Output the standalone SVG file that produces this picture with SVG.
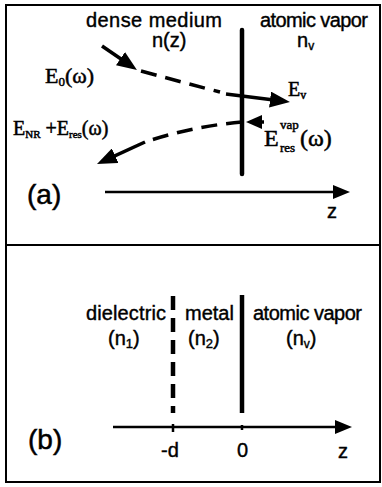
<svg xmlns="http://www.w3.org/2000/svg" width="382" height="487" viewBox="0 0 382 487">
<style>
.s{font-family:"Liberation Sans",Arial,sans-serif;font-size:20px;fill:#000;stroke:#000;stroke-width:0.4}
.r{font-family:"Liberation Serif","Times New Roman",serif;fill:#000;stroke:#000;stroke-width:0.5}
.lbl{font-family:"Liberation Sans",Arial,sans-serif;font-size:28px;fill:#000;stroke:#000;stroke-width:0.5}
.frame{fill:none;stroke:#000;stroke-width:2}
.wall{stroke:#000;stroke-width:4.5;fill:none}
.ray{stroke:#000;stroke-width:3.5;fill:none}
.dash{stroke:#000;stroke-width:3.5;fill:none;stroke-dasharray:16 9}
.axis{stroke:#000;stroke-width:2.5;fill:none}
</style>
<defs>
<marker id="ah" markerUnits="userSpaceOnUse" markerWidth="20" markerHeight="16" refX="10" refY="8" orient="auto"><path d="M0,0 L20,8 L0,16 Z" fill="#000"/></marker>
<marker id="ahs" markerUnits="userSpaceOnUse" markerWidth="16" markerHeight="14" refX="6" refY="7" orient="auto"><path d="M0,0 L16,7 L0,14 Z" fill="#000"/></marker>
<marker id="ax" markerUnits="userSpaceOnUse" markerWidth="17" markerHeight="14" refX="7" refY="7" orient="auto"><path d="M0,0 L17,7 L0,14 Z" fill="#000"/></marker>
</defs>
<rect class="frame" x="6" y="5" width="374" height="477"/>
<line class="frame" x1="6" y1="245" x2="380" y2="245"/>

<g id="panel-a">
<g id="interface-a"><line class="wall" x1="242" y1="30" x2="242" y2="174" stroke-linecap="round"/></g>
<g id="label-dense"><text class="s" x="86" y="27" textLength="136">dense medium</text><text class="s" x="152" y="47">n(z)</text></g>
<g id="label-vapor-a"><text class="s" x="260" y="27" textLength="108">atomic vapor</text><text class="s" x="297" y="47">n<tspan style="font-size:12px" dy="3">v</tspan></text></g>
<g id="label-E0"><text class="r" x="45" y="83" style="font-size:22px">E<tspan style="font-size:13px" dy="3">0</tspan><tspan dy="-3">(ω)</tspan></text></g>
<g id="label-Ev"><text class="r" x="288" y="96" style="font-size:20px">E<tspan style="font-size:12px" dy="3">v</tspan></text></g>
<g id="label-Er"><text class="r" x="13" y="135" style="font-size:20px">E<tspan style="font-size:11px" dy="3">NR</tspan><tspan dy="-3"> +E</tspan><tspan style="font-size:11px" dy="3">res</tspan><tspan dy="-3">(ω)</tspan></text></g>
<g id="label-Evap"><text class="r" x="264" y="146" style="font-size:24px">E</text><text class="r" x="280" y="129" style="font-size:13px">vap</text><text class="r" x="280" y="152" style="font-size:13px">res</text><text class="r" x="300" y="146" style="font-size:24px">(ω)</text></g>
<g id="label-a"><text class="lbl" x="27" y="204">(a)</text></g>
<g id="axis-a"><text class="s" x="327" y="218">z</text></g>
</g>

<g id="panel-b">
<g id="interface-d"><line class="wall" x1="173" y1="296" x2="173" y2="413" stroke-dasharray="14 8" stroke-width="4"/></g>
<g id="interface-0"><line class="wall" x1="242" y1="295" x2="242" y2="413"/></g>
<g id="label-dielectric"><text class="s" x="86" y="320" textLength="80">dielectric</text><text class="s" x="108" y="345">(n<tspan style="font-size:13px" dy="3">1</tspan><tspan dy="-3">)</tspan></text></g>
<g id="label-metal"><text class="s" x="185" y="320">metal</text><text class="s" x="188" y="345">(n<tspan style="font-size:13px" dy="3">2</tspan><tspan dy="-3">)</tspan></text></g>
<g id="label-vapor-b"><text class="s" x="253" y="320" textLength="109">atomic vapor</text><text class="s" x="286" y="345">(n<tspan style="font-size:12px" dy="3">v</tspan><tspan dy="-3">)</tspan></text></g>
<g id="label-b"><text class="lbl" x="28" y="449">(b)</text></g>
<g id="ticks"><text class="s" x="161" y="457">-d</text><text class="s" x="237" y="457">0</text><text class="s" x="338" y="458">z</text></g>
</g>

<g id="connectors">
<line class="ray" x1="102" y1="46" x2="128.7" y2="64.3" marker-end="url(#ah)"/>
<path class="dash" d="M141,71 Q185,83 220,92" stroke-dasharray="2 9 17 8 15 9 12 9"/>
<line class="ray" x1="226" y1="94" x2="280" y2="100.8" marker-end="url(#ah)"/>
<line class="ray" x1="264" y1="122" x2="256" y2="122" marker-end="url(#ahs)"/>
<path class="dash" d="M242,122 Q195,126 148,141" stroke-dasharray="16 8 16 9 14 9 12 30"/>
<line class="ray" x1="145" y1="142" x2="106.1" y2="159.9" marker-end="url(#ah)"/>
<line class="axis" x1="105" y1="192" x2="340" y2="192" marker-end="url(#ax)"/>
<line class="axis" x1="113" y1="427" x2="342" y2="427" marker-end="url(#ax)"/>
<line class="axis" x1="173" y1="424" x2="173" y2="432" stroke-width="3"/>
<line class="axis" x1="242" y1="425" x2="242" y2="430" stroke-width="3"/>
</g>
</svg>
